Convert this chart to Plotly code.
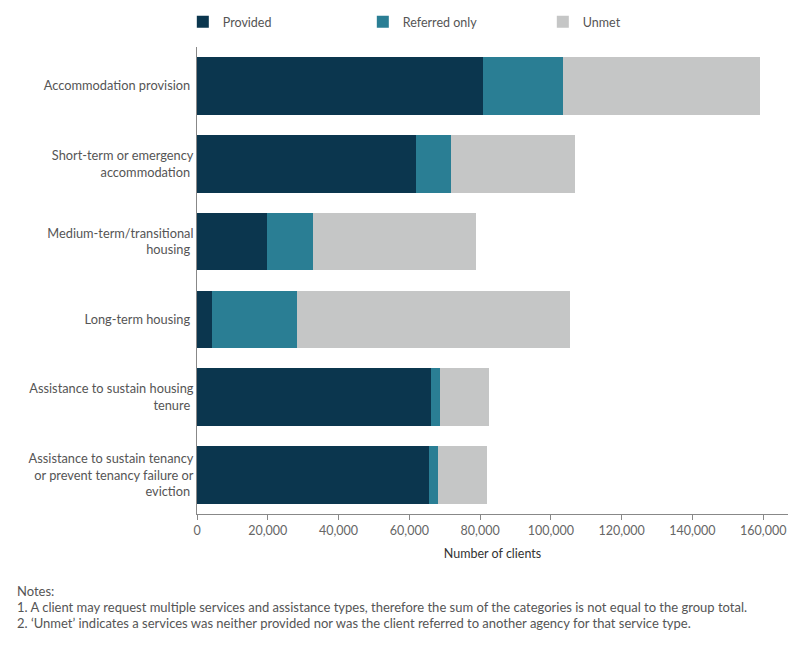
import plotly.graph_objects as go

categories = [
    "Accommodation provision",
    "Short-term or emergency<br>accommodation",
    "Medium-term/transitional<br>housing",
    "Long-term housing",
    "Assistance to sustain housing<br>tenure",
    "Assistance to sustain tenancy<br>or prevent tenancy failure or<br>eviction",
]
provided = [80800, 61900, 19800, 4200, 66100, 65500]
referred_only = [22600, 9900, 13000, 24000, 2500, 2600]
unmet = [55600, 35000, 46000, 77200, 13900, 13800]

series = [
    ("Provided", provided, "#0b364e"),
    ("Referred only", referred_only, "#2a7e94"),
    ("Unmet", unmet, "#c5c6c6"),
]

fig = go.Figure()
for name, vals, col in series:
    fig.add_trace(go.Bar(
        y=categories, x=vals, name=name, orientation="h",
        marker=dict(color=col, line=dict(width=0)),
    ))

fig.update_layout(
    width=800, height=650,
    barmode="stack", bargap=0.26,
    plot_bgcolor="white", paper_bgcolor="white",
    font=dict(family="Lato, sans-serif", size=12, color="#555555"),
    margin=dict(l=197, r=12, t=47, b=136, autoexpand=False),
    legend=dict(
        orientation="h", x=-0.024, y=1.021, xanchor="left", yanchor="bottom",
        entrywidth=135, entrywidthmode="pixels",
        font=dict(size=12.5, color="#555555"), traceorder="normal",
        itemwidth=30,
    ),
    xaxis=dict(
        range=[0, 167000], tickvals=[0, 20000, 40000, 60000, 80000, 100000, 120000, 140000, 160000],
        tickformat=",d", showgrid=False, zeroline=False,
        showline=True, linecolor="#888888", linewidth=1,
        ticks="outside", ticklen=5, tickcolor="#888888",
        tickfont=dict(size=12.5, color="#666666"),
        title=dict(text="Number of clients", font=dict(size=12.5, color="#333333"), standoff=12),
    ),
    yaxis=dict(
        autorange="reversed", showgrid=False, zeroline=False,
        showline=True, linecolor="#888888", linewidth=1,
        ticks="", tickfont=dict(size=12.8, color="#555555"), ticksuffix=" ",
    ),
)

notes = [
    "Notes:",
    "1. A client may request multiple services and assistance types, therefore the sum of the categories is not equal to the group total.",
    "2. \u2018Unmet\u2019 indicates a services was neither provided nor was the client referred to another agency for that service type.",
]
for i, t in enumerate(notes):
    fig.add_annotation(
        text=t, xref="paper", yref="paper", x=-197/591 + 15/591, y=0,
        xanchor="left", yanchor="middle", showarrow=False,
        yshift=-(591 - 514) - i * 16, font=dict(size=13, color="#555555"),
    )

fig.write_html("out.html")
